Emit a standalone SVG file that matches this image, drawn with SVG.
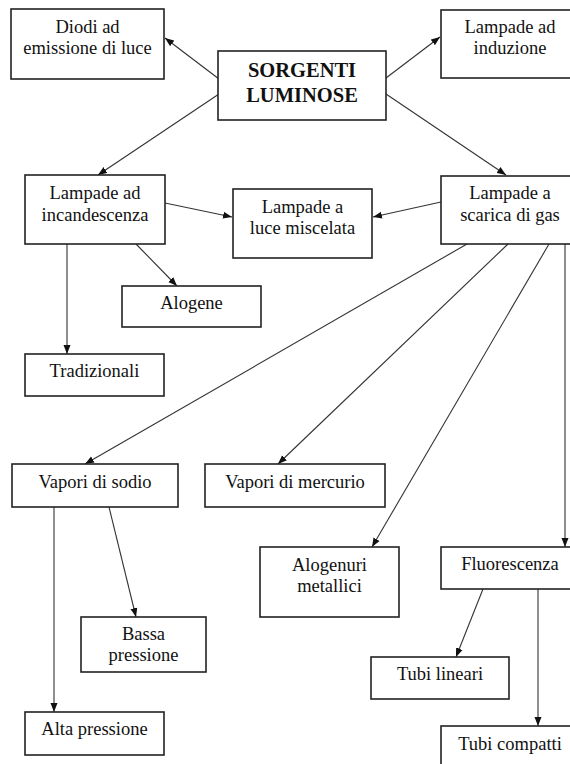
<svg xmlns="http://www.w3.org/2000/svg" width="570" height="764" viewBox="0 0 570 764">
<defs>
<marker id="ah" markerWidth="10" markerHeight="8" refX="9" refY="4" orient="auto" markerUnits="userSpaceOnUse">
<path d="M0,0.5 L9,4 L0,7.5 Z" fill="#111"/>
</marker>
<style>
.box{fill:#fff;stroke:#222;stroke-width:1.6}
.t{font-family:"Liberation Serif","Times New Roman",serif;font-size:18.5px;fill:#111;text-anchor:middle}
.b{font-weight:bold;font-size:20.5px}
.c{stroke:#333;stroke-width:1.1;fill:none;marker-end:url(#ah)}
</style>
</defs>
<rect width="570" height="764" fill="#fff"/>
<g id="connectors">
<line class="c" x1="219" y1="79" x2="165" y2="38"/>
<line class="c" x1="386" y1="78" x2="440" y2="37"/>
<line class="c" x1="219" y1="94" x2="98" y2="175"/>
<line class="c" x1="386" y1="94" x2="506" y2="175"/>
<line class="c" x1="165" y1="203" x2="232" y2="217"/>
<line class="c" x1="441" y1="202" x2="373" y2="217"/>
<line class="c" x1="67" y1="244" x2="67" y2="354"/>
<line class="c" x1="136" y1="244" x2="177" y2="286"/>
<line class="c" x1="467" y1="244" x2="85" y2="464"/>
<line class="c" x1="508" y1="244" x2="278" y2="464"/>
<line class="c" x1="549" y1="244" x2="372" y2="547"/>
<line class="c" x1="565" y1="244" x2="565" y2="547"/>
<line class="c" x1="54" y1="507" x2="54" y2="712"/>
<line class="c" x1="109" y1="507" x2="136" y2="617"/>
<line class="c" x1="483" y1="589" x2="456" y2="657"/>
<line class="c" x1="538" y1="589" x2="538" y2="726"/>
</g>
<g id="sorgenti"><rect class="box" x="218" y="51" width="168" height="69"/><text class="t b" x="302" y="77">SORGENTI</text><text class="t b" x="302" y="102">LUMINOSE</text></g>
<g id="diodi"><rect class="box" x="11" y="9" width="153" height="70"/><text class="t" x="87.5" y="33">Diodi ad</text><text class="t" x="87.5" y="54">emissione di luce</text></g>
<g id="induzione"><rect class="box" x="441" y="10" width="138" height="68"/><text class="t" x="510" y="33">Lampade ad</text><text class="t" x="510" y="54">induzione</text></g>
<g id="incandescenza"><rect class="box" x="25" y="175" width="140" height="69"/><text class="t" x="95" y="199">Lampade ad</text><text class="t" x="95" y="221">incandescenza</text></g>
<g id="miscelata"><rect class="box" x="233" y="189" width="139" height="69"/><text class="t" x="302.5" y="213">Lampade a</text><text class="t" x="302.5" y="234">luce miscelata</text></g>
<g id="scarica"><rect class="box" x="441" y="176" width="138" height="68"/><text class="t" x="510" y="199">Lampade a</text><text class="t" x="510" y="221">scarica di gas</text></g>
<g id="alogene"><rect class="box" x="122" y="286" width="139" height="41"/><text class="t" x="191.5" y="309">Alogene</text></g>
<g id="tradizionali"><rect class="box" x="25" y="354" width="139" height="42"/><text class="t" x="94.5" y="377">Tradizionali</text></g>
<g id="sodio"><rect class="box" x="12" y="464" width="166" height="43"/><text class="t" x="95" y="488">Vapori di sodio</text></g>
<g id="mercurio"><rect class="box" x="205" y="464" width="180" height="43"/><text class="t" x="295" y="488">Vapori di mercurio</text></g>
<g id="alogenuri"><rect class="box" x="260" y="547" width="139" height="70"/><text class="t" x="329.5" y="571">Alogenuri</text><text class="t" x="329.5" y="592">metallici</text></g>
<g id="fluorescenza"><rect class="box" x="441" y="547" width="138" height="42"/><text class="t" x="510" y="570">Fluorescenza</text></g>
<g id="bassa"><rect class="box" x="81" y="617" width="125" height="55"/><text class="t" x="143.5" y="640">Bassa</text><text class="t" x="143.5" y="661">pressione</text></g>
<g id="lineari"><rect class="box" x="371" y="657" width="138" height="42"/><text class="t" x="440" y="680">Tubi lineari</text></g>
<g id="alta"><rect class="box" x="25" y="712" width="139" height="43"/><text class="t" x="94.5" y="735">Alta pressione</text></g>
<g id="compatti"><rect class="box" x="441" y="726" width="138" height="50"/><text class="t" x="510" y="750">Tubi compatti</text></g>
</svg>
